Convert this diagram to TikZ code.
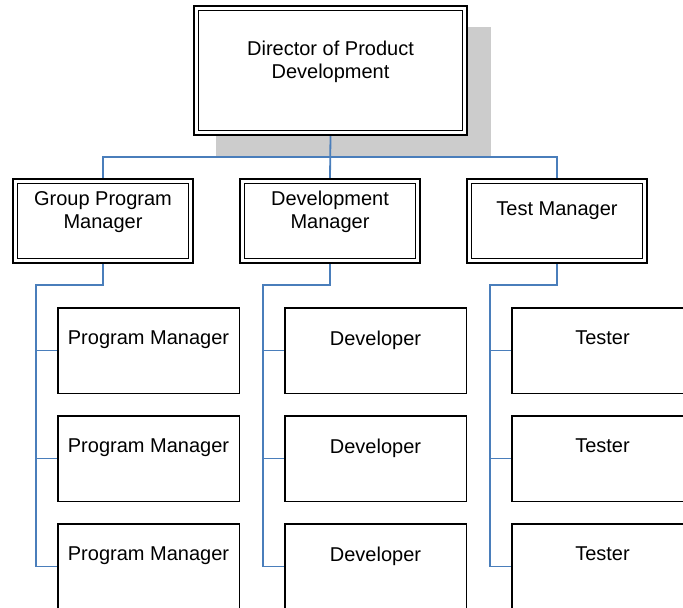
\documentclass[tikz,border=0pt]{standalone}
\usepackage{fontspec}
\setmainfont{Liberation Sans}
\usetikzlibrary{backgrounds,calc}
\definecolor{connblue}{RGB}{74,126,187}
\definecolor{shadowgray}{RGB}{204,204,204}
\tikzset{
  dblbox/.style={draw=black, fill=white, line width=1.8pt, double=white, double distance=2.8pt,
    outer sep=3.2pt, inner sep=0pt, minimum width=#1},
  dblbox/.default=175.6pt,
  subbox/.style={draw=black, fill=white, line width=1.5pt, outer sep=0.75pt, inner sep=0pt,
    minimum width=181.5pt, minimum height=85.5pt},
  lbl/.style={anchor=north, inner sep=0pt, align=center, font=\fontsize{20}{23}\selectfont},
  conn/.style={draw=connblue, line width=1.8pt},
  shadowbox/.style={fill=shadowgray}
}
\begin{document}
\begin{tikzpicture}[x=1pt,y=-1pt]
\useasboundingbox (0,0) rectangle (683,608);
% top box
\node[dblbox=268.6pt, minimum height=124.6pt] (dir) at (330.5,70.5) {};
\node[lbl] (dirT) at (330.5,41) {Director of Product\\Development};
% managers
\node[dblbox, minimum height=79.6pt] (gpm) at (103,221) {};
\node[dblbox, minimum height=79.6pt] (dvm) at (330,221) {};
\node[dblbox, minimum height=79.6pt] (tsm) at (557,221) {};
\node[lbl] (gpmT) at (103,191) {Group Program\\Manager};
\node[lbl] (dvmT) at (330,191) {Development\\Manager};
\node[lbl] (tsmT) at (557,202) {Test Manager};
% subordinate boxes
\foreach \r/\y in {1/350.5,2/458.5,3/566.5}{
  \node[subbox] (p\r) at (148.5,\y) {};
  \node[lbl] (p\r T) at (148.5,\y-19.5) {Program Manager};
  \node[subbox] (d\r) at (375.5,\y) {};
  \node[lbl] (d\r T) at (375.5,\y-19.5) {Developer};
  \node[subbox] (t\r) at (602.5,\y) {};
  \node[lbl] (t\r T) at (602.5,\y-19.5) {Tester};
}
\begin{scope}[on background layer]
  \fill[shadowgray] ($(dir.north west)+(23,22)$) rectangle ($(dir.south east)+(23,22)$);
  % top level connectors
  \draw[conn] (dir.south) -- (dvm.north);
  \draw[conn] (gpm.north) -- ++(0,-21) -| (tsm.north);
  % columns
  \foreach \m/\c in {gpm/p,dvm/d,tsm/t}{
    \draw[conn] (\m.south) -- ++(0,21) -| ($(\c3.west)+(-21,0)$) -- (\c3.west);
    \draw[conn] ($(\c1.west)+(-21,0)$) -- (\c1.west);
    \draw[conn] ($(\c2.west)+(-21,0)$) -- (\c2.west);
  }
\end{scope}
\end{tikzpicture}
\end{document}
